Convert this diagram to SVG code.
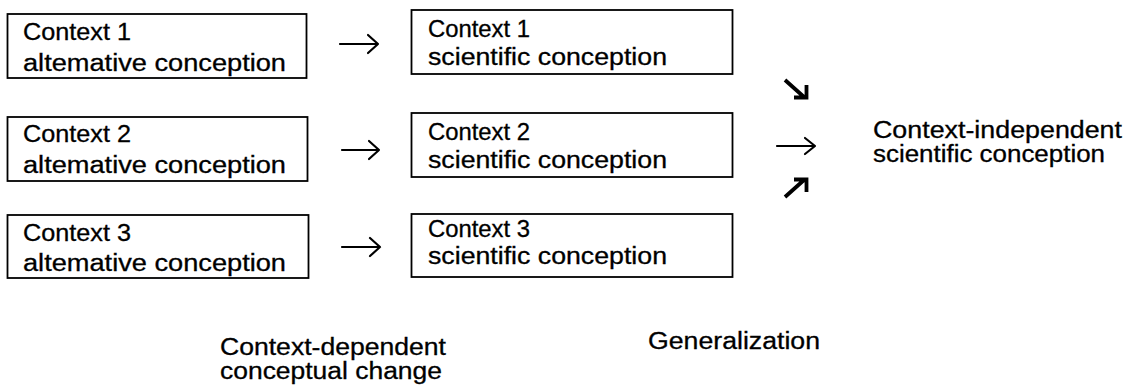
<svg xmlns="http://www.w3.org/2000/svg" width="1128" height="388" viewBox="0 0 1128 388">
<style>
.box{fill:#fff;stroke:#000;stroke-width:1.8}
.t{font-family:"Liberation Sans",Arial,Helvetica,sans-serif;font-size:23px;fill:#000;stroke:#000;stroke-width:0.3}
.arr{fill:none;stroke:#000;stroke-width:2.2;stroke-linecap:round;stroke-linejoin:round}
.darr{fill:none;stroke:#000;stroke-width:3.8;stroke-linecap:butt;stroke-linejoin:miter}
</style>
<rect width="1128" height="388" fill="#fff"/>
<g id="alt1">
<rect class="box" x="7.5" y="14" width="299" height="64"/>
<text class="t" x="23" y="40" textLength="108" lengthAdjust="spacingAndGlyphs">Context 1</text>
<text class="t" x="23" y="71" textLength="263" lengthAdjust="spacingAndGlyphs">altemative conception</text>
</g>
<g id="alt2">
<rect class="box" x="7.5" y="117" width="300" height="64"/>
<text class="t" x="23" y="142" textLength="108" lengthAdjust="spacingAndGlyphs">Context 2</text>
<text class="t" x="23" y="173" textLength="263" lengthAdjust="spacingAndGlyphs">altemative conception</text>
</g>
<g id="alt3">
<rect class="box" x="7.5" y="215" width="301" height="63"/>
<text class="t" x="23" y="241" textLength="108" lengthAdjust="spacingAndGlyphs">Context 3</text>
<text class="t" x="23" y="271" textLength="263" lengthAdjust="spacingAndGlyphs">altemative conception</text>
</g>
<g id="sci1">
<rect class="box" x="411.5" y="10" width="321" height="64"/>
<text class="t" x="428" y="37" textLength="102" lengthAdjust="spacingAndGlyphs">Context 1</text>
<text class="t" x="428" y="65" textLength="239" lengthAdjust="spacingAndGlyphs">scientific conception</text>
</g>
<g id="sci2">
<rect class="box" x="411.5" y="113" width="321" height="64"/>
<text class="t" x="428" y="140" textLength="102" lengthAdjust="spacingAndGlyphs">Context 2</text>
<text class="t" x="428" y="168" textLength="239" lengthAdjust="spacingAndGlyphs">scientific conception</text>
</g>
<g id="sci3">
<rect class="box" x="411.5" y="214" width="321" height="63"/>
<text class="t" x="428" y="237" textLength="102" lengthAdjust="spacingAndGlyphs">Context 3</text>
<text class="t" x="428" y="264" textLength="239" lengthAdjust="spacingAndGlyphs">scientific conception</text>
</g>
<g id="independent">
<text class="t" x="873" y="138" textLength="249" lengthAdjust="spacingAndGlyphs">Context-independent</text>
<text class="t" x="873" y="162" textLength="232" lengthAdjust="spacingAndGlyphs">scientific conception</text>
</g>
<g id="label-change">
<text class="t" x="220" y="355" textLength="226" lengthAdjust="spacingAndGlyphs">Context-dependent</text>
<text class="t" x="220" y="379" textLength="222" lengthAdjust="spacingAndGlyphs">conceptual change</text>
</g>
<g id="label-generalization">
<text class="t" x="648" y="349" textLength="172" lengthAdjust="spacingAndGlyphs">Generalization</text>
</g>
<g id="connectors">
<path class="arr" d="M340 44H378M368 35L378 44L368 53"/>
<path class="arr" d="M342 150H379M369 141L379 150L369 159"/>
<path class="arr" d="M342 247H380M370 238L380 247L370 256"/>
<path class="darr" d="M785 80L804 97M794 97.5H806.5V85"/>
<path class="arr" d="M777 146H815M805 138L815 146L805 154"/>
<path class="darr" d="M785 197L804 180M794 179.5H806.5V192"/>
</g>
</svg>
